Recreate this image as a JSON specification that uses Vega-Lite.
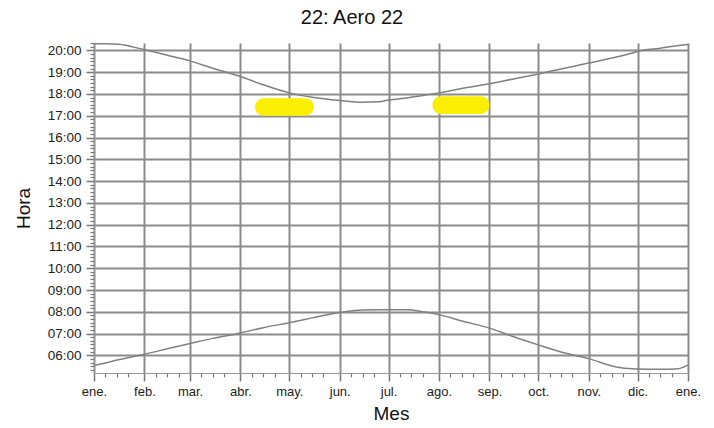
{
  "$schema": "https://vega.github.io/schema/vega-lite/v6.json",
  "width": 594,
  "height": 330,
  "autosize": {"type": "none"},
  "padding": {"left": 94, "top": 43, "right": 26, "bottom": 55},
  "background": "white",
  "title": {"text": "22: Aero 22", "fontSize": 20, "font": "Liberation Sans", "fontWeight": "normal", "color": "#111", "anchor": "middle", "dx": -39, "offset": 13},
  "config": {
    "view": {"stroke": null},
    "axis": {"labelFont": "Liberation Sans", "titleFont": "Liberation Sans", "labelColor": "#222", "titleColor": "#111", "titleFontWeight": "normal"}
  },
  "datasets": {
    "sol": [
      {"fecha": "2021-01-01T00:00", "salida": 5.54, "puesta": 20.30},
      {"fecha": "2021-01-08T00:00", "salida": 5.65, "puesta": 20.30},
      {"fecha": "2021-01-16T00:00", "salida": 5.80, "puesta": 20.28},
      {"fecha": "2021-02-01T00:00", "salida": 6.05, "puesta": 20.03},
      {"fecha": "2021-02-15T00:00", "salida": 6.30, "puesta": 19.78},
      {"fecha": "2021-03-01T00:00", "salida": 6.54, "puesta": 19.52},
      {"fecha": "2021-03-15T00:00", "salida": 6.78, "puesta": 19.18},
      {"fecha": "2021-04-01T00:00", "salida": 7.03, "puesta": 18.80},
      {"fecha": "2021-04-15T00:00", "salida": 7.27, "puesta": 18.42},
      {"fecha": "2021-05-01T00:00", "salida": 7.50, "puesta": 18.05},
      {"fecha": "2021-05-15T00:00", "salida": 7.72, "puesta": 17.85},
      {"fecha": "2021-06-01T00:00", "salida": 7.97, "puesta": 17.70},
      {"fecha": "2021-06-15T00:00", "salida": 8.08, "puesta": 17.62},
      {"fecha": "2021-06-25T00:00", "salida": 8.09, "puesta": 17.64},
      {"fecha": "2021-07-01T00:00", "salida": 8.09, "puesta": 17.72},
      {"fecha": "2021-07-13T00:00", "salida": 8.09, "puesta": 17.83},
      {"fecha": "2021-07-22T00:00", "salida": 8.00, "puesta": 17.93},
      {"fecha": "2021-08-01T00:00", "salida": 7.87, "puesta": 18.05},
      {"fecha": "2021-08-15T00:00", "salida": 7.58, "puesta": 18.25},
      {"fecha": "2021-09-01T00:00", "salida": 7.25, "puesta": 18.47},
      {"fecha": "2021-09-15T00:00", "salida": 6.88, "puesta": 18.68},
      {"fecha": "2021-10-01T00:00", "salida": 6.48, "puesta": 18.92},
      {"fecha": "2021-10-15T00:00", "salida": 6.15, "puesta": 19.15},
      {"fecha": "2021-11-01T00:00", "salida": 5.85, "puesta": 19.42},
      {"fecha": "2021-11-18T00:00", "salida": 5.47, "puesta": 19.70},
      {"fecha": "2021-11-28T00:00", "salida": 5.38, "puesta": 19.88},
      {"fecha": "2021-12-01T00:00", "salida": 5.37, "puesta": 19.95},
      {"fecha": "2021-12-15T00:00", "salida": 5.36, "puesta": 20.10},
      {"fecha": "2021-12-24T00:00", "salida": 5.37, "puesta": 20.20},
      {"fecha": "2021-12-29T00:00", "salida": 5.45, "puesta": 20.25},
      {"fecha": "2022-01-01T00:00", "salida": 5.56, "puesta": 20.27}
    ],
    "manchas": [
      {"inicio": "2021-04-10T00:00", "fin": "2021-05-16T00:00", "min": 17.0, "max": 17.8},
      {"inicio": "2021-07-28T00:00", "fin": "2021-09-01T00:00", "min": 17.08, "max": 17.9}
    ]
  },
  "layer": [
    {
      "data": {"name": "manchas"},
      "mark": {"type": "rect", "color": "#fcee00", "cornerRadius": 8.5},
      "encoding": {
        "x": {
          "field": "inicio", "type": "temporal",
          "scale": {"domain": [{"year": 2021, "month": 1, "date": 1}, {"year": 2022, "month": 1, "date": 1}]},
          "axis": {
            "orient": "bottom",
            "values": [
              {"year": 2021, "month": 1, "date": 1}, {"year": 2021, "month": 2, "date": 1}, {"year": 2021, "month": 3, "date": 1},
              {"year": 2021, "month": 4, "date": 1}, {"year": 2021, "month": 5, "date": 1}, {"year": 2021, "month": 6, "date": 1},
              {"year": 2021, "month": 7, "date": 1}, {"year": 2021, "month": 8, "date": 1}, {"year": 2021, "month": 9, "date": 1},
              {"year": 2021, "month": 10, "date": 1}, {"year": 2021, "month": 11, "date": 1}, {"year": 2021, "month": 12, "date": 1},
              {"year": 2022, "month": 1, "date": 1}
            ],
            "labelExpr": "['ene.','feb.','mar.','abr.','may.','jun.','jul.','ago.','sep.','oct.','nov.','dic.'][month(datum.value)]",
            "labelOverlap": false,
            "labelFlush": false,
            "grid": true, "gridColor": "#8c8c8c", "gridWidth": 2, "gridOpacity": 1,
            "tickSize": 8, "tickColor": "#777", "tickWidth": 1.5,
            "domain": true, "domainColor": "#999", "domainWidth": 1,
            "labelFontSize": 13, "labelPadding": 4,
            "title": "Mes", "titleFontSize": 19, "titlePadding": 6
          }
        },
        "x2": {"field": "fin"},
        "y": {
          "field": "min", "type": "quantitative",
          "scale": {"domain": [5.19, 20.34], "nice": false, "zero": false},
          "axis": {
            "orient": "left",
            "values": [6, 7, 8, 9, 10, 11, 12, 13, 14, 15, 16, 17, 18, 19, 20],
            "labelExpr": "(datum.value < 10 ? '0' : '') + datum.value + ':00'",
            "grid": true, "gridColor": "#8c8c8c", "gridWidth": 2, "gridOpacity": 1,
            "tickSize": 8, "tickColor": "#777", "tickWidth": 1.5,
            "domain": true, "domainColor": "#999", "domainWidth": 1,
            "labelFontSize": 13.5, "labelPadding": 5,
            "title": "Hora", "titleFontSize": 19, "titlePadding": 14
          }
        },
        "y2": {"field": "max"}
      }
    },
    {
      "data": {"name": "sol"},
      "mark": {"type": "line", "color": "#808080", "strokeWidth": 1.5, "interpolate": "monotone"},
      "encoding": {
        "x": {
          "field": "fecha", "type": "temporal",
          "scale": {"domain": [{"year": 2021, "month": 1, "date": 1}, {"year": 2022, "month": 1, "date": 1}]},
          "axis": {
            "orient": "bottom",
            "values": [
              {"year": 2021, "month": 1, "date": 8}, {"year": 2021, "month": 1, "date": 15}, {"year": 2021, "month": 1, "date": 22},
              {"year": 2021, "month": 2, "date": 8}, {"year": 2021, "month": 2, "date": 15}, {"year": 2021, "month": 2, "date": 22},
              {"year": 2021, "month": 3, "date": 8}, {"year": 2021, "month": 3, "date": 15}, {"year": 2021, "month": 3, "date": 22},
              {"year": 2021, "month": 4, "date": 8}, {"year": 2021, "month": 4, "date": 15}, {"year": 2021, "month": 4, "date": 22},
              {"year": 2021, "month": 5, "date": 8}, {"year": 2021, "month": 5, "date": 15}, {"year": 2021, "month": 5, "date": 22},
              {"year": 2021, "month": 6, "date": 8}, {"year": 2021, "month": 6, "date": 15}, {"year": 2021, "month": 6, "date": 22},
              {"year": 2021, "month": 7, "date": 8}, {"year": 2021, "month": 7, "date": 15}, {"year": 2021, "month": 7, "date": 22},
              {"year": 2021, "month": 8, "date": 8}, {"year": 2021, "month": 8, "date": 15}, {"year": 2021, "month": 8, "date": 22},
              {"year": 2021, "month": 9, "date": 8}, {"year": 2021, "month": 9, "date": 15}, {"year": 2021, "month": 9, "date": 22},
              {"year": 2021, "month": 10, "date": 8}, {"year": 2021, "month": 10, "date": 15}, {"year": 2021, "month": 10, "date": 22},
              {"year": 2021, "month": 11, "date": 8}, {"year": 2021, "month": 11, "date": 15}, {"year": 2021, "month": 11, "date": 22},
              {"year": 2021, "month": 12, "date": 8}, {"year": 2021, "month": 12, "date": 15}, {"year": 2021, "month": 12, "date": 22}
            ],
            "labels": false, "grid": false, "domain": false,
            "tickSize": 4, "tickColor": "#777", "tickWidth": 1.2,
            "title": null
          }
        },
        "y": {
          "field": "puesta", "type": "quantitative",
          "scale": {"domain": [5.19, 20.34], "nice": false, "zero": false},
          "axis": {
            "orient": "left",
            "values": [5.3333, 5.5, 5.6667, 5.8333,
              6.1667, 6.3333, 6.5, 6.6667, 6.8333,
              7.1667, 7.3333, 7.5, 7.6667, 7.8333,
              8.1667, 8.3333, 8.5, 8.6667, 8.8333,
              9.1667, 9.3333, 9.5, 9.6667, 9.8333,
              10.1667, 10.3333, 10.5, 10.6667, 10.8333,
              11.1667, 11.3333, 11.5, 11.6667, 11.8333,
              12.1667, 12.3333, 12.5, 12.6667, 12.8333,
              13.1667, 13.3333, 13.5, 13.6667, 13.8333,
              14.1667, 14.3333, 14.5, 14.6667, 14.8333,
              15.1667, 15.3333, 15.5, 15.6667, 15.8333,
              16.1667, 16.3333, 16.5, 16.6667, 16.8333,
              17.1667, 17.3333, 17.5, 17.6667, 17.8333,
              18.1667, 18.3333, 18.5, 18.6667, 18.8333,
              19.1667, 19.3333, 19.5, 19.6667, 19.8333,
              20.1667, 20.3333],
            "labels": false, "grid": false, "domain": false,
            "tickSize": 4, "tickColor": "#777", "tickWidth": 1.2,
            "title": null
          }
        }
      }
    },
    {
      "data": {"name": "sol"},
      "mark": {"type": "line", "color": "#808080", "strokeWidth": 1.5, "interpolate": "monotone"},
      "encoding": {
        "x": {
          "field": "fecha", "type": "temporal",
          "scale": {"domain": [{"year": 2021, "month": 1, "date": 1}, {"year": 2022, "month": 1, "date": 1}]},
          "axis": null
        },
        "y": {
          "field": "salida", "type": "quantitative",
          "scale": {"domain": [5.19, 20.34], "nice": false, "zero": false},
          "axis": null
        }
      }
    }
  ],
  "resolve": {"axis": {"x": "independent", "y": "independent"}}
}
